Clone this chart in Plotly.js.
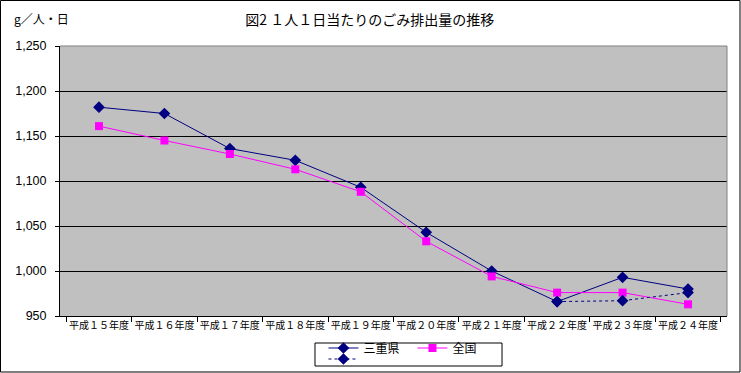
<!DOCTYPE html>
<html><head><meta charset="utf-8">
<script src="https://cdn.plot.ly/plotly-3.0.1.min.js"></script>
<style>html,body{margin:0;padding:0;background:#fff}#c{width:741px;height:373px}</style>
</head><body><div id="c"></div>
<script>
const categories = ["平成１５年度","平成１６年度","平成１７年度","平成１８年度","平成１９年度","平成２０年度","平成２１年度","平成２２年度","平成２３年度","平成２４年度"];
const mie = [1182,1175,1136,1123,1093,1043,1000,966,993,980];
const national = [1161,1145,1130,1113,1088,1033,994,976,976,963];
const mieRevised = [null,null,null,null,null,null,null,966,967,976];
const yTicks = [950,1000,1050,1100,1150,1200,1250];

const F = '"Noto Sans CJK JP", "Noto Sans", sans-serif';
const traces = [
  {x:categories, y:mie, name:"三重県", type:"scatter", mode:"lines+markers",
   line:{color:"#000080", width:1}, marker:{symbol:"diamond", size:9, color:"#000080"}, legend:"legend"},
  {x:categories, y:national, name:"全国", type:"scatter", mode:"lines+markers",
   line:{color:"#FF00FF", width:1}, marker:{symbol:"square", size:8, color:"#FF00FF"}, legend:"legend"},
  {x:categories, y:mieRevised, name:" ", type:"scatter", mode:"lines+markers",
   line:{color:"#000080", width:1, dash:"dot"}, marker:{symbol:"diamond", size:9, color:"#000080"}, legend:"legend2", connectgaps:false}
];
const layout = {
  width:741, height:373,
  margin:{l:60, r:14, t:46, b:57, autoexpand:false},
  paper_bgcolor:"#ffffff", plot_bgcolor:"#C0C0C0",
  font:{family:F, color:"#000", size:11},
  title:{text:"図2 １人１日当たりのごみ排出量の推移", x:0.499, xref:"container", y:0.946, yanchor:"middle", font:{size:14, family:F}},
  showlegend:true,
  xaxis:{type:"category", showgrid:false, showline:true, linecolor:"#000", linewidth:1,
    ticks:"outside", tickson:"boundaries", ticklen:5, tickcolor:"#000", tickangle:0, automargin:false,
    tickfont:{size:10, family:F}, zeroline:false, fixedrange:true},
  yaxis:{range:[950,1250], tickvals:yTicks, tickformat:",d", showgrid:true, gridcolor:"#000", gridwidth:1,
    showline:true, linecolor:"#000", ticks:"outside", ticklen:4, tickcolor:"#000", automargin:false,
    tickfont:{size:12.5, family:'"Liberation Sans", Arial, sans-serif'}, zeroline:false, ticklabelstandoff:6},
  legend:{orientation:"h", x:0.395, xanchor:"left", y:-0.1185, yanchor:"middle", bgcolor:"rgba(0,0,0,0)",
    borderwidth:0, font:{size:12, family:F}, itemwidth:30, entrywidth:44},
  legend2:{orientation:"h", x:0.395, xanchor:"left", y:-0.1593, yanchor:"middle", bgcolor:"rgba(0,0,0,0)",
    borderwidth:0, font:{size:12, family:F}, itemwidth:30},
  annotations:[{text:"g／人・日", xref:"paper", yref:"paper", x:-0.072, y:1.1, xanchor:"left", yanchor:"middle",
    showarrow:false, font:{size:12, family:F}}],
  shapes:[
    {type:"line", xref:"paper", yref:"paper", x0:0, x1:1, y0:1, y1:1, line:{color:"#808080", width:1}, layer:"above"},
    {type:"line", xref:"paper", yref:"paper", x0:1, x1:1, y0:0, y1:1, line:{color:"#808080", width:1}, layer:"above"},
    {type:"rect", xref:"paper", yref:"paper", x0:0.3823, x1:0.6627, y0:-0.1852, y1:-0.1, line:{color:"#000", width:1}, fillcolor:"rgba(0,0,0,0)"},
    {type:"rect", xref:"paper", yref:"paper", x0:-0.0892, x1:1.0195, y0:-0.2074, y1:1.1685, line:{color:"#000", width:1}, fillcolor:"rgba(0,0,0,0)"}
  ]
};
Plotly.newPlot("c", traces, layout, {displayModeBar:false, staticPlot:true});
</script></body></html>
